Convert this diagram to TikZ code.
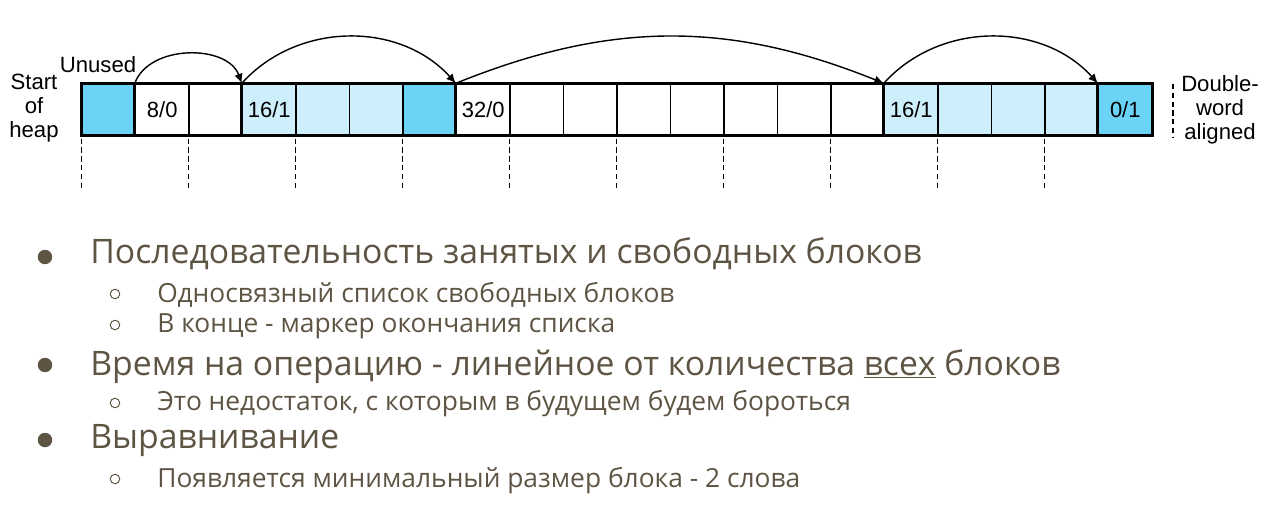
\documentclass[tikz,border=0pt]{standalone}
\usepackage{fontspec}
\setmainfont{Liberation Sans}
\newfontfamily\slidefont{Open Sans}
\usetikzlibrary{arrows.meta}

\definecolor{heapblue}{HTML}{6AD3F6}
\definecolor{heaplight}{HTML}{CDEFFC}
\definecolor{slidetext}{HTML}{5E5443}

\tikzset{
  word/.style={draw, line width=0.8pt, minimum width=1.07cm, minimum height=1.02cm, inner sep=0pt},
  celltext/.style={font=\fontsize{12.5}{14}\selectfont, inner sep=0pt},
  blockline/.style={line width=1.7pt},
  link/.style={line width=0.8pt, -{Latex[length=1.9mm,width=1.7mm]}},
  guide/.style={line width=0.7pt, dash pattern=on 3pt off 2pt},
  sidelabel/.style={align=center, font=\fontsize{12.6}{13.6}\selectfont, inner sep=0pt},
  dotbullet/.style={circle, fill=slidetext, minimum size=0.29cm, inner sep=0pt},
  ringbullet/.style={circle, draw=slidetext, line width=0.55pt, minimum size=0.19cm, inner sep=0pt},
  mainitem/.style={anchor=base west, inner sep=0pt, text=slidetext, font=\slidefont\fontsize{19.2}{22}\selectfont},
  subitem/.style={anchor=base west, inner sep=0pt, text=slidetext, font=\slidefont\fontsize{15}{17}\selectfont}
}

\begin{document}
\begin{tikzpicture}[x=0.02cm, y=-0.02cm]
  \useasboundingbox (0,0) rectangle (1280,523);

  % heap words
  \foreach \i/\f in {0/heapblue, 1/white, 2/white, 3/heaplight, 4/heaplight, 5/heaplight,
                     6/heapblue, 7/white, 8/white, 9/white, 10/white, 11/white, 12/white,
                     13/white, 14/white, 15/heaplight, 16/heaplight, 17/heaplight,
                     18/heaplight, 19/heapblue}
    \node[word, fill=\f] (c\i) at ({108.75+53.5*\i},109.5) {};

  % block headers
  \node[celltext] (t1) at (c1) {8/0};
  \node[celltext] (t3) at (c3) {16/1};
  \node[celltext] (t7) at (c7) {32/0};
  \node[celltext] (t15) at (c15) {16/1};
  \node[celltext] (t19) at (c19) {0/1};

  % block borders
  \draw[blockline] (c0.north west) rectangle (c19.south east);
  \foreach \i in {1,3,7,15,19}
    \draw[blockline] (c\i.north west) -- (c\i.south west);

  % free list
  \draw[link] (c1.north west) to[out=70, in=110] (c3.north west);
  \draw[link] (c3.north west) to[out=48, in=132] (c7.north west);
  \draw[link] (c7.north west) to[out=22, in=158] (c15.north west);
  \draw[link] (c15.north west) to[out=48, in=132] (c19.north west);

  % double-word marks
  \foreach \i in {0,2,...,18}
    \draw[guide] (c\i.south west) ++(0,3) -- ++(0,50);
  \coordinate (dwtop) at (1173,84);
  \coordinate (dwbot) at (1173,137);
  \draw[guide] (dwtop) -- (dwbot);

  % labels
  \node[sidelabel] (start) at (34,108) {Start\\of\\heap};
  \node[sidelabel] (unused) at (98,65) {Unused};
  \node[sidelabel] (dword) at (1220,110) {Double-\\word\\aligned};

  % notes
  \node[dotbullet] (b1) at (45,257) {};
  \node[mainitem] (m1) at (90,264) {Последовательность занятых и свободных блоков};
  \node[ringbullet] (r1) at (115,294) {};
  \node[subitem] (s1) at (157,302) {Односвязный список свободных блоков};
  \node[ringbullet] (r2) at (115,325) {};
  \node[subitem] (s2) at (157,333) {В конце - маркер окончания списка};
  \node[dotbullet] (b2) at (45,365) {};
  \node[mainitem] (m2) at (90,375) {Время на операцию - линейное от количества \underline{всех} блоков};
  \node[ringbullet] (r3) at (115,403) {};
  \node[subitem] (s3) at (157,410) {Это недостаток, с которым в будущем будем бороться};
  \node[dotbullet] (b3) at (45,440) {};
  \node[mainitem] (m3) at (90,448) {Выравнивание};
  \node[ringbullet] (r4) at (115,479) {};
  \node[subitem] (s4) at (157,487) {Появляется минимальный размер блока - 2 слова};
\end{tikzpicture}
\end{document}
